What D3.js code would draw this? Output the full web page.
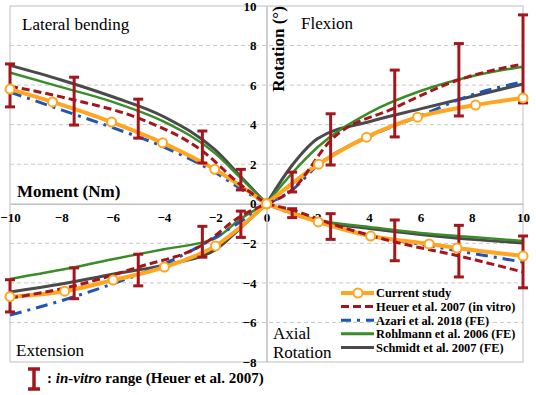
<!DOCTYPE html>
<html>
<head>
<meta charset="utf-8">
<script src="https://cdn.jsdelivr.net/npm/d3@7"></script>
<style>
  body { margin: 0; background: #fff; }
  text { font-family: "Liberation Serif", "Times New Roman", serif; }
</style>
</head>
<body>
<div id="chart"></div>
<script>
// Moment (Nm) vs rotation (deg), four load cases around the origin
const tickValuesX = [-10, -8, -6, -4, -2, 0, 2, 4, 6, 8, 10];
const tickValuesY = [-8, -6, -4, -2, 0, 2, 4, 6, 8, 10];

// Current study (marker positions)
const currentLatX = [-10, -8.34, -6.04, -4.05, -2.02, 0];
const currentLatY = [5.8, 5.15, 4.13, 3.08, 1.74, 0];
const currentFlexX = [0, 2.03, 3.9, 5.89, 8.15, 10];
const currentFlexY = [0, 2.0, 3.37, 4.38, 4.99, 5.35];
const currentExtX = [-10, -7.87, -5.98, -3.98, -1.99, 0];
const currentExtY = [-4.7, -4.42, -3.86, -3.2, -2.13, 0];
const currentAxX = [0, 2.02, 4.06, 6.34, 7.43, 10];
const currentAxY = [0, -0.92, -1.63, -2.03, -2.24, -2.64];

// Heuer et al. 2007 in vitro: mean and range at 1, 2.5, 5, 7.5, 10 Nm
const heuerMoments = [0, 1, 2.5, 5, 7.5, 10];
const heuerLat = [0, 0.95, 2.67, 4.33, 5.25, 5.95];
const heuerFlex = [0, 0.7, 3.2, 4.85, 6.27, 7.07];
const heuerExt = [0, -0.62, -2.08, -3.2, -4.15, -4.77];
const heuerAx = [0, -0.31, -1.0, -1.93, -2.64, -3.45];
const rangeLatHi = [1.74, 3.68, 5.29, 6.4, 7.07];
const rangeLatLo = [0.7, 2.06, 3.32, 3.98, 4.9];
const rangeFlexHi = [1.6, 4.55, 6.76, 8.1, 9.55];
const rangeFlexLo = [0.6, 1.96, 3.38, 4.44, 5.1];
const rangeExtHi = [-0.37, -1.14, -2.55, -3.24, -3.84];
const rangeExtLo = [-1.7, -2.7, -4.15, -4.8, -5.47];
const rangeAxHi = [-0.25, -0.5, -0.82, -1.09, -1.63];
const rangeAxLo = [-0.7, -1.8, -2.88, -3.7, -4.25];

// FE studies, read at 0, 1, 2, 4, 6, 8, 10 Nm
const feMoments = [0, 1, 2, 4, 6, 8, 10];
const azariLat = [0, 0.75, 1.58, 2.87, 3.85, 4.75, 5.65];
const azariFlex = [0, 0.7, 1.95, 3.4, 4.45, 5.5, 6.17];
const azariExt = [0, -0.9, -1.7, -3.05, -4.05, -4.9, -5.63];
const azariAx = [0, -0.5, -0.9, -1.6, -2.05, -2.5, -2.95];
const rohlmannLat = [0, 1.3, 2.55, 4.15, 5.15, 5.9, 6.63];
const rohlmannFlex = [0, 1.55, 2.87, 4.6, 5.7, 6.45, 6.93];
const rohlmannExt = [0, -0.75, -1.75, -2.3, -2.8, -3.34, -3.8];
const rohlmannAx = [0, -0.45, -0.82, -1.17, -1.48, -1.68, -1.88];
const schmidtLat = [0, 1.37, 2.72, 4.4, 5.41, 6.26, 7.0];
const schmidtFlex = [0, 1.95, 3.3, 4.15, 4.8, 5.42, 6.06];
const schmidtExt = [0, -1.2, -2.33, -3.1, -3.56, -4.06, -4.46];
const schmidtAx = [0, -0.45, -0.87, -1.25, -1.55, -1.8, -1.98];

const legendLabels = ["Current study", "Heuer et al. 2007 (in vitro)", "Azari et al. 2018 (FE)",
  "Rohlmann et al. 2006 (FE)", "Schmidt et al. 2007 (FE)"];

const colors = {
  current: "#FFA51F",
  heuer: "#A3161E",
  azari: "#1F55B8",
  rohlmann: "#3A8C29",
  schmidt: "#4A4A4A"
};

const width = 536, height = 395;
const svg = d3.select("#chart").append("svg")
  .attr("width", width)
  .attr("height", height);

const x = d3.scaleLinear().domain([-10, 10]).range([10, 523]);
const y = d3.scaleLinear().domain([-8, 10]).range([362, 6]);

// gridlines
svg.append("g")
  .selectAll("line")
  .data(tickValuesY.filter(v => v !== 0 && v !== 10 && v !== -8))
  .join("line")
  .attr("x1", x(-10)).attr("x2", x(10))
  .attr("y1", d => y(d)).attr("y2", d => y(d))
  .attr("stroke", "#c8c8c8")
  .attr("stroke-dasharray", "4,3");

// frame
svg.append("rect")
  .attr("x", x(-10)).attr("y", y(10))
  .attr("width", x(10) - x(-10))
  .attr("height", y(-8) - y(10))
  .attr("fill", "none")
  .attr("stroke", "#bfbfbf");

// axes through the origin
const xAxis = svg.append("g")
  .attr("transform", `translate(0,${y(0)})`)
  .call(d3.axisBottom(x).tickValues(tickValuesX).tickSize(0).tickPadding(9));
const yAxis = svg.append("g")
  .attr("transform", `translate(${x(0)},0)`)
  .call(d3.axisLeft(y).tickValues(tickValuesY).tickSize(0).tickPadding(10));
[xAxis, yAxis].forEach(g => {
  g.select(".domain").attr("stroke", "#bfbfbf").attr("stroke-width", 1.5);
  g.selectAll("text")
    .style("font-family", "'Liberation Serif', serif")
    .style("font-size", "13px")
    .style("font-weight", "bold")
    .attr("fill", "#000");
});

// build [x, y] points for a branch
const pts = (xs, ys) => xs.map((v, i) => [v, ys[i]]).sort((a, b) => a[0] - b[0]);
const neg = arr => arr.map(v => -v);

const line = d3.line()
  .x(d => x(d[0]))
  .y(d => y(d[1]))
  .curve(d3.curveMonotoneX);

function drawSeries(branches, color, widthPx, dash) {
  branches.forEach(b => {
    svg.append("path")
      .datum(b)
      .attr("fill", "none")
      .attr("stroke", color)
      .attr("stroke-width", widthPx)
      .attr("stroke-dasharray", dash)
      .attr("d", line);
  });
}

const schmidtBranches = [
  pts(neg(feMoments), schmidtLat), pts(feMoments, schmidtFlex),
  pts(neg(feMoments), schmidtExt), pts(feMoments, schmidtAx)];
const rohlmannBranches = [
  pts(neg(feMoments), rohlmannLat), pts(feMoments, rohlmannFlex),
  pts(neg(feMoments), rohlmannExt), pts(feMoments, rohlmannAx)];
const azariBranches = [
  pts(neg(feMoments), azariLat), pts(feMoments, azariFlex),
  pts(neg(feMoments), azariExt), pts(feMoments, azariAx)];
const currentBranches = [
  pts(currentLatX, currentLatY), pts(currentFlexX, currentFlexY),
  pts(currentExtX, currentExtY), pts(currentAxX, currentAxY)];
const heuerBranches = [
  pts(neg(heuerMoments), heuerLat), pts(heuerMoments, heuerFlex),
  pts(neg(heuerMoments), heuerExt), pts(heuerMoments, heuerAx)];

drawSeries(schmidtBranches, colors.schmidt, 3, null);
drawSeries(rohlmannBranches, colors.rohlmann, 2.5, null);
drawSeries(azariBranches, colors.azari, 3, "12,6,3,6");
drawSeries(currentBranches, colors.current, 4, null);
drawSeries(heuerBranches, colors.heuer, 3, "8,4");

// in-vitro ranges
const rangeMoments = heuerMoments.slice(1);
const ranges = [
  ...rangeMoments.map((m, i) => ({ m: -m, hi: rangeLatHi[i], lo: rangeLatLo[i] })),
  ...rangeMoments.map((m, i) => ({ m: m, hi: rangeFlexHi[i], lo: rangeFlexLo[i] })),
  ...rangeMoments.map((m, i) => ({ m: -m, hi: rangeExtHi[i], lo: rangeExtLo[i] })),
  ...rangeMoments.map((m, i) => ({ m: m, hi: rangeAxHi[i], lo: rangeAxLo[i] }))
];
const bars = svg.append("g")
  .attr("stroke", colors.heuer)
  .attr("stroke-width", 3);
bars.selectAll(".stem").data(ranges).join("line")
  .attr("x1", d => x(d.m)).attr("x2", d => x(d.m))
  .attr("y1", d => y(d.hi)).attr("y2", d => y(d.lo));
bars.selectAll(".capHi").data(ranges).join("line")
  .attr("x1", d => x(d.m) - 5).attr("x2", d => x(d.m) + 5)
  .attr("y1", d => y(d.hi)).attr("y2", d => y(d.hi));
bars.selectAll(".capLo").data(ranges).join("line")
  .attr("x1", d => x(d.m) - 5).attr("x2", d => x(d.m) + 5)
  .attr("y1", d => y(d.lo)).attr("y2", d => y(d.lo));

// current study markers
svg.append("g")
  .selectAll("circle")
  .data(currentBranches.flat())
  .join("circle")
  .attr("cx", d => x(d[0]))
  .attr("cy", d => y(d[1]))
  .attr("r", 4.5)
  .attr("fill", "#fff")
  .attr("stroke", colors.current)
  .attr("stroke-width", 2);

// quadrant labels
const label = (txt, px, py, weight) => svg.append("text")
  .attr("x", px).attr("y", py)
  .style("font-size", "17px")
  .style("font-weight", weight || "normal")
  .text(txt);
label("Lateral bending", 22, 30);
label("Flexion", 301, 29);
label("Extension", 16, 356);
label("Axial", 273, 339);
label("Rotation", 273, 358);
label("Moment (Nm)", 17, 197, "bold");

svg.append("text")
  .attr("transform", `translate(284,49) rotate(-90)`)
  .attr("text-anchor", "middle")
  .style("font-size", "17px")
  .style("font-weight", "bold")
  .text("Rotation (°)");

// legend
const legend = svg.append("g").attr("transform", "translate(341,293)");
const legendStyles = [
  { color: colors.current, w: 4, dash: null },
  { color: colors.heuer, w: 3, dash: "8,4" },
  { color: colors.azari, w: 3, dash: "10,6,3,6" },
  { color: colors.rohlmann, w: 3, dash: null },
  { color: colors.schmidt, w: 3, dash: null }
];
legendLabels.forEach((name, i) => {
  const row = legend.append("g").attr("transform", `translate(0,${i * 13.6})`);
  row.append("line")
    .attr("x1", 0).attr("x2", 33)
    .attr("stroke", legendStyles[i].color)
    .attr("stroke-width", legendStyles[i].w)
    .attr("stroke-dasharray", legendStyles[i].dash);
  if (i === 0) {
    row.append("circle")
      .attr("cx", 17).attr("r", 4.5)
      .attr("fill", "#fff")
      .attr("stroke", colors.current)
      .attr("stroke-width", 2);
  }
  row.append("text")
    .attr("x", 35).attr("y", 4.3)
    .style("font-size", "12.4px")
    .style("font-weight", "bold")
    .text(name);
});

// note about the range bars
const note = svg.append("g").attr("stroke", colors.heuer).attr("stroke-width", 3.5);
note.append("line").attr("x1", 34).attr("x2", 34).attr("y1", 369).attr("y2", 389);
note.append("line").attr("x1", 28).attr("x2", 40).attr("y1", 369).attr("y2", 369);
note.append("line").attr("x1", 28).attr("x2", 40).attr("y1", 389).attr("y2", 389);

const noteText = svg.append("text")
  .attr("x", 47).attr("y", 383)
  .style("font-size", "15px")
  .style("font-weight", "bold");
noteText.append("tspan").text(": ");
noteText.append("tspan").style("font-style", "italic").text("in-vitro");
noteText.append("tspan").text(" range (Heuer et al. 2007)");
</script>
</body>
</html>
